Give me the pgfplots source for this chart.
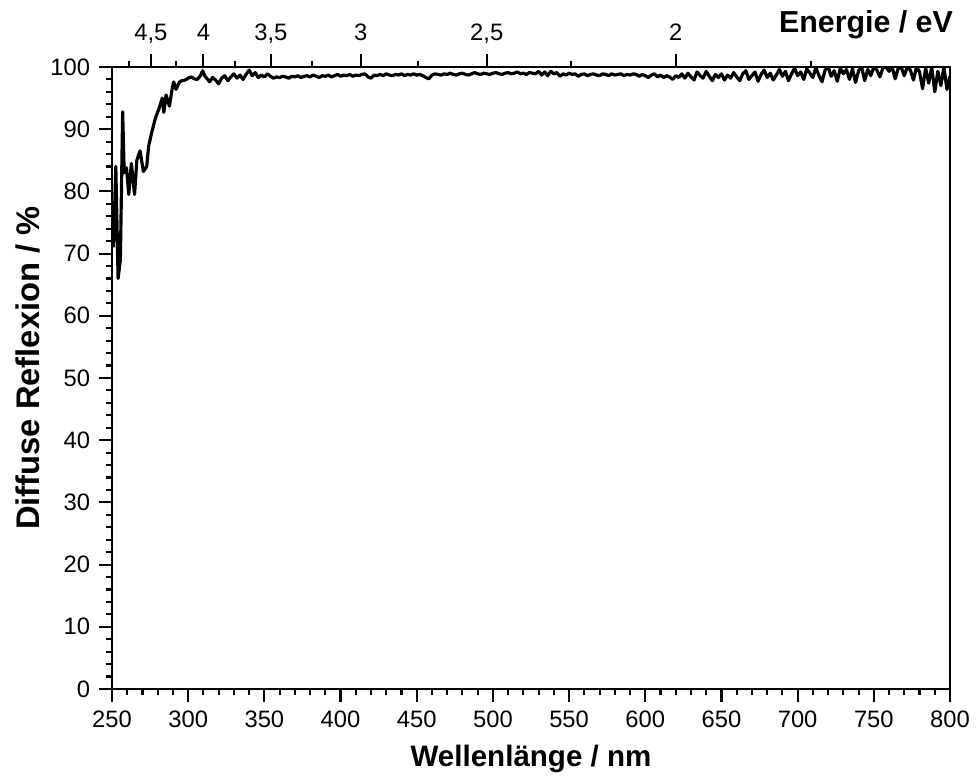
\documentclass[border=0pt]{standalone}
\usepackage{fontspec}
\setmainfont{Liberation Sans}
\usepackage{pgfplots}
\pgfplotsset{compat=1.18}

\pgfplotstableread{
x y
251 71
252.5 84
254 66
255.5 69
257 92.8
258 83
259.5 83.8
261 79.5
262.7 84.5
264.8 79.5
266.3 85
268.4 86.5
270.6 83.2
272.8 84
274 87.2
276 89.4
278.5 91.8
281 93.4
283 95
284 92.7
285.5 95.5
287.7 93.7
289.5 96.5
290.5 97.6
292 96.4
294.3 97.6
296 97.8
298 97.9
300 98.2
302 98.4
304 98.1
306 98.0
308 98.6
309.5 99.4
311 98.5
312.5 98.1
314 97.6
316 98.3
318 97.9
320 97.3
322 98.2
324 98.6
326 97.8
328 98.4
330 98.9
332 98.2
334 98.7
336 98.0
338 98.8
340 99.5
342 98.6
344 99.1
346 98.3
348 98.7
350 98.4
352 98.9
354 98.5
356 98.2
358 98.4
360 98.3
362 98.5
364 98.4
366 98.2
368 98.5
370 98.4
372 98.6
374 98.3
376 98.5
378 98.6
380 98.4
382 98.7
384 98.5
386 98.3
388 98.6
390 98.5
392 98.7
394 98.4
396 98.6
398 98.8
400 98.5
402 98.7
404 98.6
406 98.8
408 98.5
410 98.7
412 98.6
414 98.8
416 98.9
418 98.4
420 98.2
422 98.7
424 98.6
426 98.8
428 98.6
430 98.9
432 98.7
434 98.6
436 98.8
438 98.7
440 98.9
442 98.6
444 98.8
446 98.7
448 98.9
450 98.7
452 98.8
454 98.6
456 98.3
458 98.1
460 98.7
462 98.9
464 98.8
466 98.7
468 98.9
470 98.8
472 99.0
474 98.8
476 98.7
478 98.9
480 99.0
482 98.8
484 98.7
486 98.9
488 99.1
490 98.9
492 98.8
494 99.0
496 98.9
498 98.8
500 99.0
502 99.1
504 98.9
506 98.8
508 99.0
510 99.1
512 98.9
514 99.0
516 99.2
518 98.9
520 99.0
522 98.8
524 99.1
526 99.0
528 98.9
530 99.3
532 98.7
534 99.2
536 98.6
538 99.3
540 98.9
542 99.1
544 98.5
546 98.9
548 98.7
550 99.0
552 98.8
554 98.9
556 98.5
558 98.8
560 98.9
562 98.6
564 98.8
566 98.9
568 98.7
570 98.6
572 98.9
574 98.8
576 98.6
578 98.9
580 98.7
582 98.8
584 98.9
586 98.6
588 98.8
590 98.7
592 98.9
594 98.8
596 98.5
598 98.8
600 98.6
602 98.3
604 98.7
606 98.9
608 98.4
610 98.7
612 98.3
614 98.6
616 98.4
618 98.0
620 98.6
622 98.3
624 98.9
626 98.2
628 99.0
630 98.4
632 97.9
634 99.2
636 98.6
638 98.2
640 99.3
642 98.5
644 97.8
646 98.8
648 98.3
650 98.9
652 97.9
654 98.7
656 98.2
658 99.1
660 98.4
662 97.8
664 98.9
666 99.4
668 98.0
670 98.6
672 99.2
674 97.7
676 98.8
678 99.5
680 98.3
682 99.0
684 97.9
686 98.7
688 99.6
690 98.5
692 99.3
694 97.8
696 98.9
698 99.8
700 98.6
702 99.2
704 98.0
706 99.7
708 99.0
710 98.3
712 99.9
714 98.6
716 97.6
718 99.5
720 100
722 98.5
724 99.4
726 97.7
728 99.8
730 98.9
732 99.6
734 98.0
736 99.7
738 97.5
740 99.4
742 100
744 97.8
746 99.6
748 98.6
750 100
752 99.5
754 98.4
756 99.9
758 100
760 99.3
762 100
764 98.1
766 99.8
768 99.9
770 98.6
772 100
774 99.5
776 97.9
778 100
780 99.2
782 96.5
784 99.8
786 97.4
788 100
790 96.0
792 99.3
794 97.0
796 100
798 96.4
800 98.5
}\refl

\begin{document}
\begin{tikzpicture}
\useasboundingbox (-1.4918cm,-1.2521cm) rectangle (11.508cm,9.177cm);
\pgfplotsset{
  every tick/.style={black, line width=0.8pt},
  major tick length=4.8pt,
  minor tick length=2.4pt,
}
\begin{axis}[
  scale only axis,
  width=11.162cm, height=8.285cm,
  xmin=250, xmax=800, ymin=0, ymax=100,
  axis line style={line width=0.95pt},
  tick align=outside,
  xtick pos=bottom, ytick pos=left,
  xtick={250,300,...,800},
  ytick={0,10,...,100},
  minor x tick num=4,
  minor y tick num=4,
  tick label style={font=\fontsize{9}{10}\selectfont},
  /pgf/number format/assume math mode=true,
  xlabel={Wellenlänge / nm},
  ylabel={Diffuse Reflexion / \%},
  every axis x label/.style={at={(axis description cs:0.5,-0.112)}, anchor=center,
    font=\fontsize{11.2}{13}\selectfont\bfseries},
  every axis y label/.style={at={(axis description cs:-0.1008,0.516)}, anchor=center, rotate=90,
    font=\fontsize{12.4}{14}\selectfont\bfseries},
]
\addplot[black, line width=1.2pt, line join=round] table[x=x,y=y] {\refl};
\end{axis}
\begin{axis}[
  scale only axis,
  width=11.162cm, height=8.285cm,
  xmin=250, xmax=800, ymin=0, ymax=100,
  clip=false,
  axis x line*=top,
  hide y axis,
  axis line style={line width=0.95pt},
  tick align=outside,
  xtick={275.52,309.96,354.24,413.28,495.94,619.92},
  xticklabels={{4,5},4,{3,5},3,{2,5},2},
  minor xtick={261.02,291.73,330.62,381.49,450.85,551.04,708.48},
  typeset ticklabels with strut,
  tick label style={font=\fontsize{9}{10}\selectfont},
  xticklabel style={yshift=-1.2pt},
  /pgf/number format/assume math mode=true,
]
\addplot[draw=none] coordinates {(250,0) (800,0)};
\node[anchor=base east, inner sep=0pt, font=\fontsize{11.5}{13}\selectfont\bfseries]
  at (axis description cs:1.004,1.0547) {Energie / eV};
\end{axis}
\end{tikzpicture}
\end{document}
